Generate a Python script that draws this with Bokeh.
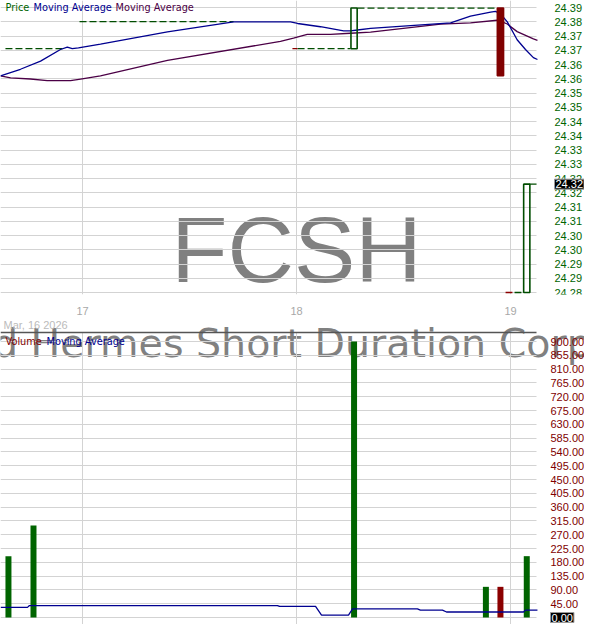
from bokeh.plotting import figure
from bokeh.layouts import column
from bokeh.models import Range1d, FixedTicker, Label, ColumnDataSource
from bokeh.embed import file_html
from bokeh.resources import INLINE

# ---------------- data ----------------
symbol = "FCSH"
company = "Federated Hermes Short Duration Corporate ETF"
start_label = "Mar, 16 2026"

day_ticks = [17, 18, 19]
day_labels = ["17", "18", "19"]

price_tick_start = 24.28
price_tick_step = 0.00526
price_tick_labels = ["24.28", "24.29", "24.29", "24.30", "24.30", "24.31", "24.31",
                     "24.32", "24.32", "24.33", "24.33", "24.34", "24.34", "24.35",
                     "24.35", "24.36", "24.36", "24.37", "24.37", "24.38", "24.39"]

vol_tick_labels = ["0.00", "45.00", "90.00", "135.00", "180.00", "225.00", "270.00",
                   "315.00", "360.00", "405.00", "450.00", "495.00", "540.00", "585.00",
                   "630.00", "675.00", "720.00", "765.00", "810.00", "855.00", "900.00"]

# candles (session time in days)
candle_x = [18.269, 18.953, 19.076]
candle_open = [24.370, 24.385, 24.280]
candle_close = [24.385, 24.360, 24.320]

# carried-forward price levels (dashed)
flat_x0 = [16.640, 16.986, 18.005, 18.285, 19.019, 19.089]
flat_x1 = [16.911, 17.706, 18.252, 18.939, 19.051, 19.126]
flat_price = [24.370, 24.380, 24.370, 24.385, 24.280, 24.320]

# flat down ticks
tick_x0 = [17.981, 18.977]
tick_x1 = [18.005, 19.009]
tick_price = [24.370, 24.280]

# price moving average (blue)
ma_fast_x = [16.617, 16.710, 16.804, 16.897, 16.929, 16.952, 16.981, 17.084, 17.397,
             17.706, 17.972, 18.005, 18.112, 18.220, 18.252, 18.285, 18.346, 18.720,
             18.813, 18.907, 18.930, 18.953, 18.985, 19.031, 19.070, 19.107, 19.126]
ma_fast = [24.3600, 24.3624, 24.3654, 24.3697, 24.3706, 24.3700, 24.3703, 24.3717, 24.3762,
           24.3799, 24.3799, 24.3793, 24.3781, 24.3766, 24.3766, 24.3769, 24.3775, 24.3795,
           24.3820, 24.3835, 24.3838, 24.3829, 24.3799, 24.3733, 24.3697, 24.3667, 24.3660]

# second moving average (purple)
ma_slow_x = [16.617, 16.664, 16.757, 16.835, 16.944, 16.991, 17.084, 17.397, 17.925,
             17.986, 18.050, 18.159, 18.252, 18.346, 18.673, 18.813, 18.938, 18.961,
             18.985, 19.031, 19.107, 19.126]
ma_slow = [24.3600, 24.3592, 24.3588, 24.3582, 24.3582, 24.3588, 24.3600, 24.3657, 24.3727,
           24.3739, 24.3753, 24.3753, 24.3757, 24.3761, 24.3791, 24.3795, 24.3805, 24.3799,
           24.3791, 24.3763, 24.3736, 24.3731]

# volume
vol_x = [16.654, 16.771, 18.269, 18.885, 18.953, 19.076]
vol = [200, 300, 900, 100, 100, 200]
vol_up = [True, True, True, True, False, True]

vol_ma_x = [16.617, 16.743, 16.752, 17.911, 17.921, 18.089, 18.117, 18.243, 18.262,
            18.565, 18.579, 18.682, 18.701, 19.061, 19.070, 19.126]
vol_ma = [33, 33, 39, 39, 36, 36, 8, 8, 28, 28, 24, 24, 18, 18, 24, 24]

last_price = 24.32
last_price_text = "24.32"
last_volume = 0.0
last_volume_text = "0.00"

# ---------------- layout / style ----------------
W = 584
H1, H2 = 318, 306
B1_BOTTOM = 24
F1_H = H1 - B1_BOTTOM
F2_H = H2
P2_TOP = H1            # page y of panel 2 top
RULE_Y = 332           # page y of the volume panel rule
AXIS_PX = 532          # where the value axes sit
GRID_END_PX = 536      # where horizontal grid lines stop
DAY_PX, DAY17_PX = 214.0, 82.0
GREEN_TXT = "#006400"
RED_TXT = "#800000"
UP_LINE = "#004d00"
DOWN_FILL = "#800000"
BLUE = "#000090"
PURPLE = "#4b0046"
GRID = "#d3d3d3"
FONT = "Liberation Sans"
LEG_FONT = "DejaVu Sans"


def px_to_day(px):
    return 17 + (px - DAY17_PX) / DAY_PX


x_start, x_end = px_to_day(0), px_to_day(W)
axis_x = px_to_day(AXIS_PX)
grid_x_end = px_to_day(GRID_END_PX)

price_ticks = [round(price_tick_start + i * price_tick_step, 6) for i in range(len(price_tick_labels))]
k1 = 285.0 / (price_ticks[-1] - price_ticks[0])
p_start = price_ticks[0] - 2.0 / k1
p_end = p_start + F1_H / k1

vol_ticks = [float(s) for s in vol_tick_labels]
k2 = 276.0 / (vol_ticks[-1] - vol_ticks[0])
v_start = -7.0 / k2
v_end = v_start + F2_H / k2
v_rule = v_start + (P2_TOP + F2_H - RULE_Y) / k2


def style_value_axis(ax, color, standoff):
    ax.axis_line_color = None
    ax.major_tick_line_color = None
    ax.minor_tick_line_color = None
    ax.major_tick_out = 0
    ax.major_label_text_font = FONT
    ax.major_label_text_font_size = "11px"
    ax.major_label_text_color = color
    ax.major_label_standoff = standoff
    ax.fixed_location = axis_x


def limit_hgrid(p):
    try:
        p.ygrid[0].cross_bounds = (x_start, grid_x_end)
    except AttributeError:
        pass


# ---------------- price panel ----------------
p1 = figure(width=W, height=H1, output_backend="svg", toolbar_location=None,
            x_range=Range1d(x_start, x_end), y_range=Range1d(p_start, p_end),
            y_axis_location="right", min_border_left=0, min_border_right=0,
            min_border_top=0, min_border_bottom=B1_BOTTOM)
p1.outline_line_color = None
p1.background_fill_color = "white"
p1.border_fill_color = "white"
p1.title.visible = False

p1.yaxis.ticker = FixedTicker(ticks=price_ticks)
p1.yaxis.major_label_overrides = {t: l for t, l in zip(price_ticks, price_tick_labels)}
style_value_axis(p1.yaxis[0], GREEN_TXT, 22)

p1.xaxis.ticker = FixedTicker(ticks=day_ticks)
p1.xaxis.major_label_overrides = {t: l for t, l in zip(day_ticks, day_labels)}
xa = p1.xaxis[0]
xa.axis_line_color = None
xa.major_tick_line_color = None
xa.minor_tick_line_color = None
xa.major_tick_out = 0
xa.major_label_text_font = FONT
xa.major_label_text_font_size = "11px"
xa.major_label_text_color = "#a8a8a8"
xa.major_label_standoff = 12
p1.grid.grid_line_color = GRID
limit_hgrid(p1)

# watermark symbol (under the grid)
p1.add_layout(Label(x=296, y=F1_H - 249, x_units="screen", y_units="screen", text=symbol,
                    text_font=FONT, text_font_size="92px", text_color="#808080",
                    text_align="center", text_baseline="middle", level="image"))

line_col = [UP_LINE if c >= o else DOWN_FILL for o, c in zip(candle_open, candle_close)]
fill_col = ["white" if c >= o else DOWN_FILL for o, c in zip(candle_open, candle_close)]
fill_alpha = [0.0 if c >= o else 1.0 for o, c in zip(candle_open, candle_close)]
csrc = ColumnDataSource(dict(x=candle_x,
                             top=[max(o, c) for o, c in zip(candle_open, candle_close)],
                             bottom=[min(o, c) for o, c in zip(candle_open, candle_close)],
                             lc=line_col, fc=fill_col, fa=fill_alpha))

p1.segment(x0=flat_x0, y0=flat_price, x1=flat_x1, y1=flat_price,
           line_color=UP_LINE, line_width=1.3, line_dash="7 3")
p1.segment(x0=tick_x0, y0=tick_price, x1=tick_x1, y1=tick_price,
           line_color="#8b0000", line_width=1.3)
p1.line(ma_slow_x, ma_slow, line_color=PURPLE, line_width=1.3)
p1.line(ma_fast_x, ma_fast, line_color=BLUE, line_width=1.3)
p1.vbar(x="x", top="top", bottom="bottom", width=0.029, source=csrc,
        line_color="lc", fill_color="fc", fill_alpha="fa", line_width=1.6)

leg1 = [("Price", GREEN_TXT, 5), ("Moving Average", BLUE, 33), ("Moving Average", PURPLE, 115)]
for txt, col, xx in leg1:
    p1.add_layout(Label(x=xx, y=F1_H - 1, x_units="screen", y_units="screen", text=txt,
                        text_font=LEG_FONT, text_font_size="9.75px", text_color=col,
                        text_baseline="top", text_align="left"))

p1.add_layout(Label(x=AXIS_PX + 22, y=last_price, x_units="screen", y_units="data",
                    text=last_price_text, text_font=FONT, text_font_size="11px",
                    text_color="white", background_fill_color="black",
                    border_line_color="#999999", text_baseline="middle", text_align="left",
                    padding=1, level="overlay"))

# ---------------- volume panel ----------------
p2 = figure(width=W, height=H2, output_backend="svg", toolbar_location=None,
            x_range=p1.x_range, y_range=Range1d(v_start, v_end),
            y_axis_location="right", min_border_left=0, min_border_right=0,
            min_border_top=0, min_border_bottom=0)
p2.outline_line_color = None
p2.title.visible = False

p2.xaxis.visible = False
p2.xgrid.ticker = FixedTicker(ticks=day_ticks)
p2.yaxis.ticker = FixedTicker(ticks=vol_ticks)
p2.yaxis.major_label_overrides = {t: l for t, l in zip(vol_ticks, vol_tick_labels)}
style_value_axis(p2.yaxis[0], RED_TXT, 18)
p2.grid.grid_line_color = GRID
limit_hgrid(p2)
try:
    p2.xgrid[0].cross_bounds = (v_start, v_rule)
except AttributeError:
    pass

# start date
p2.add_layout(Label(x=3, y=F2_H - (324 - P2_TOP), x_units="screen", y_units="screen",
                    text=start_label, text_font=FONT, text_font_size="11px",
                    text_color="#bbbbbb", text_baseline="middle", text_align="left"))

# company name watermark (under the grid)
p2.add_layout(Label(x=299, y=F2_H - (342 - P2_TOP), x_units="screen", y_units="screen",
                    text=company, text_font=LEG_FONT, text_font_size="39.5px",
                    text_color="#808080", text_align="center", text_baseline="middle",
                    level="image"))

# panel top rule
p2.segment(x0=[x_start], y0=[v_rule], x1=[grid_x_end], y1=[v_rule],
           line_color="#555555", line_width=1.5)

vcol = ["#006400" if u else "#8b0000" for u in vol_up]
p2.vbar(x=vol_x, top=vol, bottom=0, width=0.028, fill_color=vcol, line_color=None)
p2.line(vol_ma_x, vol_ma, line_color=BLUE, line_width=1.3)

leg2 = [("Volume", RED_TXT, 5), ("Moving Average", BLUE, 46)]
for txt, col, xx in leg2:
    p2.add_layout(Label(x=xx, y=F2_H - (335 - P2_TOP), x_units="screen", y_units="screen",
                        text=txt, text_font=LEG_FONT, text_font_size="9.75px",
                        text_color=col, text_baseline="top", text_align="left"))

p2.add_layout(Label(x=AXIS_PX + 18, y=last_volume, x_units="screen", y_units="data",
                    text=last_volume_text, text_font=FONT, text_font_size="11px",
                    text_color="white", background_fill_color="black",
                    border_line_color="#999999", text_baseline="middle", text_align="left",
                    padding=1, level="overlay"))

layout = column(p1, p2, spacing=0)
open("out.html", "w").write(file_html(layout, INLINE))
